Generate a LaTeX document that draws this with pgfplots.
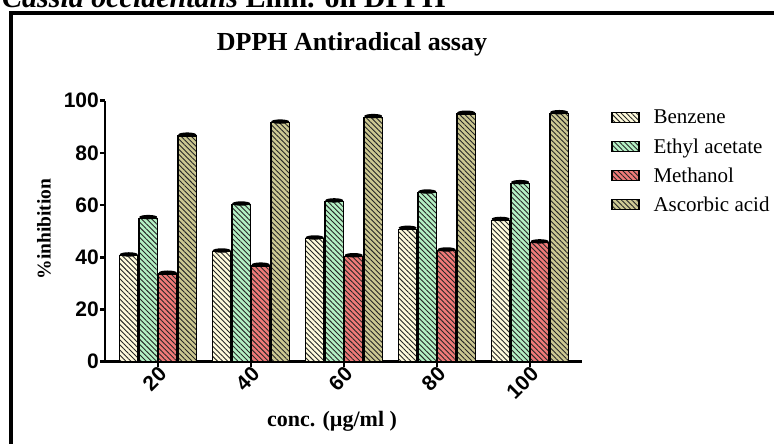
\documentclass[border=0pt]{standalone}
\usepackage{pgfplots}
\pgfplotsset{compat=1.18}
\usepackage{fontspec}
\setmainfont{Liberation Serif}
\newfontfamily\arial{Liberation Sans}
\usetikzlibrary{patterns,patterns.meta}
\definecolor{cBenz}{HTML}{FFFBDC}
\definecolor{cEthyl}{HTML}{B4F0C4}
\definecolor{cMeth}{HTML}{F07A78}
\definecolor{cAsc}{HTML}{CCC892}
\pgfdeclareplotmark{cap}{\pgfpathellipse{\pgfpointorigin}{\pgfqpoint{9pt}{0pt}}{\pgfqpoint{0pt}{2.2pt}}\pgfusepathqfill}
\pgfplotsset{
  mybar/.style={draw=black, line width=1.2pt, fill=#1,
    postaction={pattern={Lines[angle=-45,distance=3.6pt,line width=0.9pt]}, pattern color=black!85},
    legend image code/.code={\draw[##1, line width=1.2pt] (0pt,-5pt) rectangle (27pt,5pt);},
    error bars/.cd, y dir=plus, y explicit, error mark=cap,
    error bar style={line width=1pt, black}},
}
\begin{document}
\begin{tikzpicture}[x=1pt,y=1pt]
\useasboundingbox (0,0) rectangle (774,444);
\draw[line width=3.5pt] (11,-5) -- (11,431) -- (780,431);
\node[anchor=base west, inner sep=0pt, font=\bfseries\fontsize{30}{30}\selectfont] at (2,436.7) {\textit{Cassia occidentalis} Linn. on DPPH};
\node[anchor=base, inner sep=0pt, font=\bfseries\fontsize{26}{26}\selectfont] at (352,393) {DPPH Antiradical assay};
\node[anchor=base, inner sep=0pt, font=\bfseries\fontsize{22}{22}\selectfont] at (332,17) {conc. (µg/ml )};
\node[anchor=center, rotate=90, inner sep=0pt, font=\bfseries\fontsize{19.5}{19.5}\selectfont] at (44,215) {\%inhibition};
\begin{axis}[
  at={(105pt,82.3pt)}, anchor=south west,
  scale only axis, width=477pt, height=261pt,
  xmin=-0.57, xmax=4.56, ymin=0, ymax=100,
  axis x line*=bottom, axis y line*=left,
  axis line style={-, line width=2.5pt},
  ytick={0,20,...,100}, xtick={0,1,2,3,4}, xticklabels={20,40,60,80,100},
  tick style={line width=2.5pt, black}, tick align=outside, major tick length=5pt,
  yticklabel style={font=\arial\bfseries\fontsize{21}{21}\selectfont, inner xsep=1pt},
  xticklabel style={font=\arial\bfseries\fontsize{21}{21}\selectfont, rotate=45, anchor=east, inner sep=1pt, yshift=-6pt, xshift=2pt},
  /pgf/number format/assume math mode=true,
  ybar=1pt, bar width=18.5pt,
  legend style={at={(1.061,0.972)}, anchor=north west, draw=none, fill=none,
    font=\fontsize{21}{21}\selectfont, inner sep=0pt, row sep=9pt},
  legend cell align=left,
  clip=false,
]
\addplot[mybar=cBenz] coordinates {(0,40.6) +- (0,0.5) (1,42.1) +- (0,0.5) (2,47.1) +- (0,0.5) (3,50.8) +- (0,0.5) (4,54.2) +- (0,0.5)};
\addplot[mybar=cEthyl] coordinates {(0,54.9) +- (0,0.5) (1,60.1) +- (0,0.5) (2,61.3) +- (0,0.5) (3,64.7) +- (0,0.5) (4,68.3) +- (0,0.5)};
\addplot[mybar=cMeth] coordinates {(0,33.6) +- (0,0.5) (1,36.7) +- (0,0.5) (2,40.3) +- (0,0.5) (3,42.5) +- (0,0.5) (4,45.6) +- (0,0.5)};
\addplot[mybar=cAsc] coordinates {(0,86.5) +- (0,0.5) (1,91.5) +- (0,0.5) (2,93.6) +- (0,0.5) (3,94.9) +- (0,0.5) (4,95.1) +- (0,0.5)};
\legend{\hspace*{12pt}Benzene, \hspace*{12pt}Ethyl acetate, \hspace*{12pt}Methanol, \hspace*{12pt}Ascorbic acid}
\end{axis}
\end{tikzpicture}
\end{document}
